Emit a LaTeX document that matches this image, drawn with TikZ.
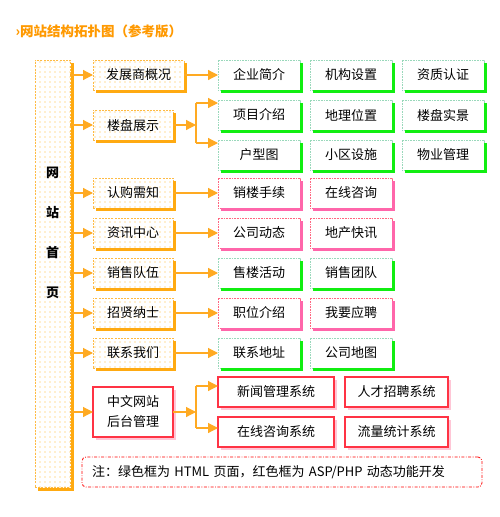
\documentclass[tikz,border=0pt]{standalone}
\usepackage{fontspec}
\setmainfont{Noto Sans CJK SC}
\usepackage{xcolor}
\usetikzlibrary{arrows.meta,positioning,patterns.meta}

\definecolor{huborange}{HTML}{FFAA11}
\definecolor{dashorange}{HTML}{FFBB44}
\definecolor{dotorange}{HTML}{FFB830}
\definecolor{arroworange}{HTML}{FFAA22}
\definecolor{titleorange}{HTML}{FF9900}
\definecolor{greenline}{HTML}{99D8BB}
\definecolor{greenshade}{HTML}{11EE11}
\definecolor{pinkline}{HTML}{FF6680}
\definecolor{pinkshade}{HTML}{FF66AA}
\definecolor{redline}{HTML}{FF3344}
\definecolor{redshade}{HTML}{FFC6D6}

\begin{document}
\begin{tikzpicture}[
    x=1pt, y=-1pt,
    node distance=10pt,
    every node/.style={font=\fontsize{13pt}{15pt}\selectfont},
    hubbox/.style={
        rectangle,
        draw=dashorange,
        dash pattern=on 2pt off 1.2pt,
        line width=0.8pt,
        pattern={Dots[distance=5pt,radius=0.7pt]},
        pattern color=dotorange,
        minimum width=35pt,
        minimum height=427pt,
        inner sep=0pt,
        outer sep=0pt
    },
    hubtext/.style={
        align=center,
        font=\fontsize{13pt}{40pt}\selectfont\bfseries
    },
    menubox/.style={
        rectangle,
        draw=dashorange,
        dash pattern=on 2pt off 1.2pt,
        line width=0.8pt,
        pattern={Dots[distance=5pt,radius=0.7pt]},
        pattern color=dotorange,
        minimum width=80pt,
        minimum height=30pt,
        inner sep=0pt,
        outer sep=0pt,
        align=center
    },
    htmlbox/.style={
        rectangle,
        draw=greenline,
        dash pattern=on 0.8pt off 0.8pt,
        line width=0.8pt,
        fill=white,
        minimum width=82pt,
        minimum height=30pt,
        inner sep=0pt,
        outer sep=0pt
    },
    aspbox/.style={
        htmlbox,
        draw=pinkline
    },
    sysbox/.style={
        rectangle,
        draw=redline,
        line width=1.2pt,
        fill=white,
        minimum height=30pt,
        inner sep=0pt,
        outer sep=0pt,
        align=center
    },
    notebox/.style={
        rectangle,
        rounded corners=4pt,
        draw=red,
        dash pattern=on 3pt off 1.5pt on 0.8pt off 1.5pt,
        line width=0.8pt,
        text width=380pt,
        inner xsep=10pt,
        minimum height=30pt,
        align=left
    },
    orshadow/.style={draw=huborange, line width=2.5pt},
    gshadow/.style={draw=greenshade, line width=2.5pt},
    pshadow/.style={draw=pinkshade, line width=2.5pt},
    rshadow/.style={draw=redshade, line width=2pt},
    linkline/.style={draw=arroworange, line width=1.2pt},
    linkarrow/.style={linkline, -{Triangle[length=10pt,width=10pt]}}
]
\useasboundingbox (0,0) rectangle (500,517);

% title
\node (title) [anchor=west, text=titleorange, font=\fontsize{13.5pt}{15pt}\selectfont\bfseries] at (12,31) {›网站结构拓扑图（参考版）};

% home page column
\node (hub) [hubbox] at (52.5,273.5) {};
\node (hublabel) [hubtext] at (52.5,233) {网\\站\\首\\页};

% second level
\node (fzs) [menubox, minimum width=91pt] at (138.5,75) {发展商概况};
\node (lpzs) [menubox] at (133,125) {楼盘展示};
\node (rgxz) [menubox] at (133,193) {认购需知};
\node (zxzx) [menubox, below=of rgxz] {资讯中心};
\node (xsdw) [menubox, below=of zxzx] {销售队伍};
\node (zxns) [menubox, below=of xsdw] {招贤纳士};
\node (lxwm) [menubox, below=of zxns] {联系我们};
\node (htgl) [sysbox, minimum width=80pt, minimum height=50pt, below=19pt of lxwm, font=\fontsize{13pt}{20pt}\selectfont] {中文网站\\后台管理};

% third level
\node (qyjj) [htmlbox] at (259,75) {企业简介};
\node (jgsz) [htmlbox, right=of qyjj] {机构设置};
\node (zzrz) [htmlbox, right=of jgsz] {资质认证};
\node (xmjs) [htmlbox, below=of qyjj] {项目介绍};
\node (dlwz) [htmlbox, right=of xmjs] {地理位置};
\node (lpsj) [htmlbox, right=of dlwz] {楼盘实景};
\node (hxt) [htmlbox, below=of xmjs] {户型图};
\node (xqss) [htmlbox, right=of hxt] {小区设施};
\node (wygl) [htmlbox, right=of xqss] {物业管理};
\node (xlsx) [aspbox] at (qyjj |- rgxz) {销楼手续};
\node (zxzxun) [aspbox, right=of xlsx] {在线咨询};
\node (gsdt) [aspbox] at (qyjj |- zxzx) {公司动态};
\node (dckx) [aspbox, right=of gsdt] {地产快讯};
\node (sldd) [htmlbox] at (qyjj |- xsdw) {售楼活动};
\node (xstd) [htmlbox, right=of sldd] {销售团队};
\node (zwjs) [aspbox] at (qyjj |- zxns) {职位介绍};
\node (wyyp) [aspbox, right=of zwjs] {我要应聘};
\node (lxdz) [htmlbox] at (qyjj |- lxwm) {联系地址};
\node (gsdtu) [htmlbox, right=of lxdz] {公司地图};
\node (xwgl) [sysbox, minimum width=116pt] at (276,392) {新闻管理系统};
\node (rczp) [sysbox, minimum width=103pt, right=11pt of xwgl] {人才招聘系统};
\node (zxzxxt) [sysbox, minimum width=116pt, below=10pt of xwgl] {在线咨询系统};
\node (lltj) [sysbox, minimum width=103pt, right=11pt of zxzxxt] {流量统计系统};

% note
\node (note) [notebox] at (282,472) {注：绿色框为 HTML 页面，红色框为 ASP/PHP 动态功能开发};

% shadows
\draw[orshadow, line width=3pt] ([xshift=2pt,yshift=-3pt]hub.north east) -- ([xshift=2pt,yshift=-2pt]hub.south east) -- ([xshift=3pt,yshift=-2pt]hub.south west);
\foreach \n in {fzs,lpzs,rgxz,zxzx,xsdw,zxns,lxwm}
    \draw[orshadow] ([xshift=1.5pt,yshift=-3pt]\n.north east) -- ([xshift=1.5pt,yshift=-1.5pt]\n.south east) -- ([xshift=3pt,yshift=-1.5pt]\n.south west);
\foreach \n in {qyjj,jgsz,zzrz,xmjs,dlwz,lpsj,hxt,xqss,wygl,sldd,xstd,lxdz,gsdtu}
    \draw[gshadow] ([xshift=1.5pt,yshift=-3pt]\n.north east) -- ([xshift=1.5pt,yshift=-1.5pt]\n.south east) -- ([xshift=3pt,yshift=-1.5pt]\n.south west);
\foreach \n in {xlsx,zxzxun,gsdt,dckx,zwjs,wyyp}
    \draw[pshadow] ([xshift=1.5pt,yshift=-3pt]\n.north east) -- ([xshift=1.5pt,yshift=-1.5pt]\n.south east) -- ([xshift=3pt,yshift=-1.5pt]\n.south west);
\foreach \n in {htgl,xwgl,rczp,zxzxxt,lltj}
    \draw[rshadow] ([xshift=1.8pt,yshift=-3pt]\n.north east) -- ([xshift=1.8pt,yshift=-1.8pt]\n.south east) -- ([xshift=3pt,yshift=-1.8pt]\n.south west);

% arrows from home page
\foreach \n in {fzs,lpzs,rgxz,zxzx,xsdw,zxns,lxwm,htgl}
    \draw[linkarrow] (hub.east |- \n.west) -- (\n.west);

% straight links
\foreach \a/\b in {fzs/qyjj,rgxz/xlsx,zxzx/gsdt,xsdw/sldd,zxns/zwjs,lxwm/lxdz}
    \draw[linkarrow] (\a.east) -- (\b.west);

% branched links
\coordinate (lptop) at (196,103);
\coordinate (lpbot) at (196,143);
\draw[linkarrow] (lpzs.east) -- (lpzs.east -| lptop);
\draw[linkline] (lptop) -- (lpbot);
\draw[linkarrow] (lptop) -- (lptop -| xmjs.west);
\draw[linkarrow] (lpbot) -- (lpbot -| hxt.west);

\coordinate (httop) at (196,386);
\coordinate (htbot) at (196,428);
\draw[linkarrow] (htgl.east) -- (htgl.east -| httop);
\draw[linkline] (httop) -- (htbot);
\draw[linkarrow] (httop) -- (httop -| xwgl.west);
\draw[linkarrow] (htbot) -- (htbot -| zxzxxt.west);
\end{tikzpicture}
\end{document}
